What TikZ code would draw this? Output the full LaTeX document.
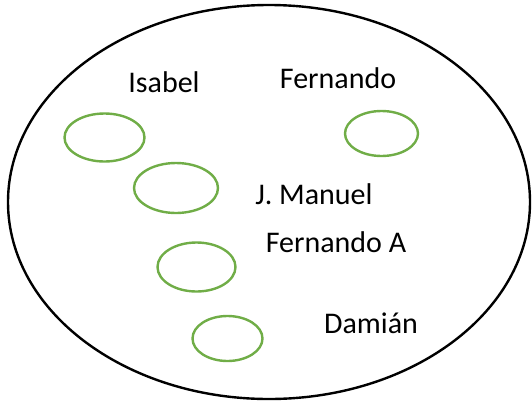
\documentclass[tikz,border=0pt]{standalone}
\usepackage{fontspec}
\setmainfont{Carlito}
\usepackage{tikz}
\usetikzlibrary{shapes.geometric,positioning}
\definecolor{leafgreen}{RGB}{112,173,71}

\begin{document}
\begin{tikzpicture}[x=1pt,y=-1pt,
  set/.style={ellipse,draw,line width=2.4pt,inner sep=0},
  elem/.style={ellipse,draw=leafgreen,line width=2.4pt,inner sep=0},
  name node/.style={font=\fontsize{30}{36}\selectfont,inner sep=0}]
    \useasboundingbox (0,0) rectangle (532,402);
    \node[set,minimum width=522,minimum height=394](U) at (269,202){};
    \node[elem,minimum width=80,minimum height=48](E1) at (104.5,137.5){};
    \node[elem,minimum width=84,minimum height=50](E2) at (176,188){};
    \node[elem,minimum width=78,minimum height=49](E3) at (196.5,267){};
    \node[elem,minimum width=70,minimum height=45](E4) at (227.5,338.5){};
    \node[elem,minimum width=73,minimum height=45](E5) at (381.5,133.5){};
    \node[name node](isabel) at (164,82){Isabel};
    \node[name node](fernando) at (338,78){Fernando};
    \node[name node](manuel) at (314,194){J. Manuel};
    \node[name node](fernandoA) at (336,242){Fernando A};
    \node[name node](damian) at (371,323){Damián};

\end{tikzpicture}
\end{document}
